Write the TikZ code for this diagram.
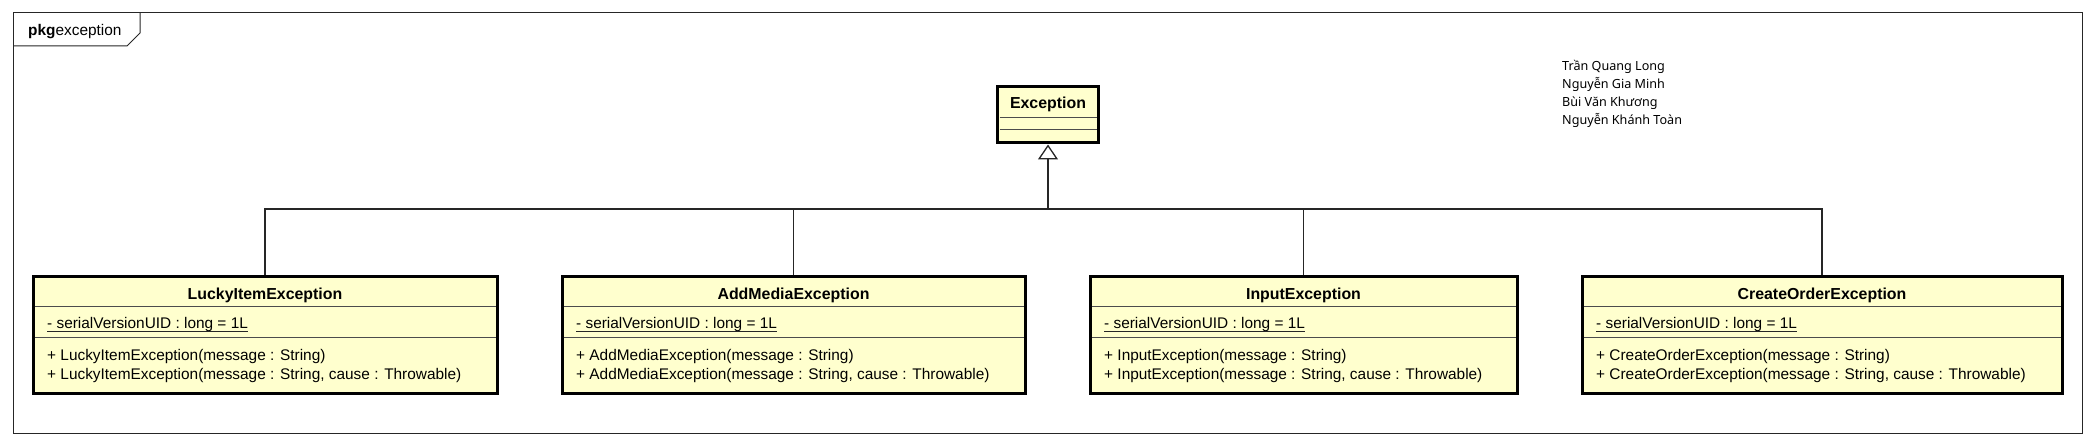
\documentclass[tikz,border=0pt]{standalone}
\usepackage{fontspec}
\setmainfont{Liberation Sans}
\newfontfamily\namefont{Noto Sans}
\usetikzlibrary{arrows.meta,positioning}
\definecolor{classfill}{RGB}{255,255,206}
\tikzset{
  classbox/.style={draw=black, line width=3pt, fill=classfill, rectangle, inner sep=0pt},
  compline/.style={draw=black!70, line width=1pt},
  txt/.style={inner sep=0pt, font=\fontsize{15.4}{18}\selectfont},
  classname/.style={inner sep=0pt, font=\fontsize{15.9}{18}\selectfont\bfseries},
  staticline/.style={draw=black!85, line width=0.9pt},
  conn/.style={draw=black!85, line width=1.3pt},
  inherit/.style={conn, -{Triangle[open, length=15pt, width=20pt, line width=1.3pt]}},
  author/.style={inner sep=0pt, anchor=base west, font=\namefont\fontsize{12.6}{18}\selectfont},
}

\begin{document}
\begin{tikzpicture}[x=1pt, y=-1pt]
\useasboundingbox (0,0) rectangle (2096,446);

% package frame
\draw[line width=1pt, black!85] (13,13) rectangle (2082,433);
\draw[line width=1pt, black!85] (13,46) -- (127,46) -- (140,33) -- (140,13);
\node[txt, anchor=base west] (pkg) at (28,36) {\textbf{pkg}exception};

% authors
\node[author] (name1) at (1562,70.5) {Trần Quang Long};
\node[author] (name2) at (1562,88.5) {Nguyễn Gia Minh};
\node[author] (name3) at (1562,106.5) {Bùi Văn Khương};
\node[author] (name4) at (1562,124.5) {Nguyễn Khánh Toàn};

% Exception
\node[classbox, minimum width=101pt, minimum height=56pt] (exc) at (1048,115) {};
\draw[compline] (999.5,118) -- (1096.5,118);
\draw[compline] (999.5,130) -- (1096.5,130);
\node[classname, anchor=base] (excname) at (1048,109) {Exception};

% LuckyItemException
\node[classbox, minimum width=464pt, minimum height=116pt] (lucky) at (265,335) {};
\draw[compline] (34.5,307) -- (495.5,307);
\draw[compline] (34.5,337) -- (495.5,337);
\node[classname, anchor=base] (luckyname) at (265,299.5) {LuckyItemException};
\node[txt, anchor=base west] (luckyattr) at (47,328.5) {- serialVersionUID : long = 1L};
\draw[staticline] ([yshift=-2.5pt]luckyattr.base west) -- ([yshift=-2.5pt]luckyattr.base east);
\node[txt, anchor=base west] (luckyop1) at (47,360.5) {+ LuckyItemException(message : String)};
\node[txt, anchor=base west] (luckyop2) at (47,379) {+ LuckyItemException(message : String, cause : Throwable)};

% AddMediaException
\node[classbox, minimum width=463pt, minimum height=116pt] (addmedia) at (793.5,335) {};
\draw[compline] (563.5,307) -- (1023.5,307);
\draw[compline] (563.5,337) -- (1023.5,337);
\node[classname, anchor=base] (addmedianame) at (793.5,299.5) {AddMediaException};
\node[txt, anchor=base west] (addmediaattr) at (576,328.5) {- serialVersionUID : long = 1L};
\draw[staticline] ([yshift=-2.5pt]addmediaattr.base west) -- ([yshift=-2.5pt]addmediaattr.base east);
\node[txt, anchor=base west] (addmediaop1) at (576,360.5) {+ AddMediaException(message : String)};
\node[txt, anchor=base west] (addmediaop2) at (576,379) {+ AddMediaException(message : String, cause : Throwable)};

% InputException
\node[classbox, minimum width=427pt, minimum height=116pt] (input) at (1303.5,335) {};
\draw[compline] (1091.5,307) -- (1515.5,307);
\draw[compline] (1091.5,337) -- (1515.5,337);
\node[classname, anchor=base] (inputname) at (1303.5,299.5) {InputException};
\node[txt, anchor=base west] (inputattr) at (1104,328.5) {- serialVersionUID : long = 1L};
\draw[staticline] ([yshift=-2.5pt]inputattr.base west) -- ([yshift=-2.5pt]inputattr.base east);
\node[txt, anchor=base west] (inputop1) at (1104,360.5) {+ InputException(message : String)};
\node[txt, anchor=base west] (inputop2) at (1104,379) {+ InputException(message : String, cause : Throwable)};

% CreateOrderException
\node[classbox, minimum width=480pt, minimum height=116pt] (createorder) at (1822,335) {};
\draw[compline] (1583.5,307) -- (2060.5,307);
\draw[compline] (1583.5,337) -- (2060.5,337);
\node[classname, anchor=base] (createordername) at (1822,299.5) {CreateOrderException};
\node[txt, anchor=base west] (createorderattr) at (1596,328.5) {- serialVersionUID : long = 1L};
\draw[staticline] ([yshift=-2.5pt]createorderattr.base west) -- ([yshift=-2.5pt]createorderattr.base east);
\node[txt, anchor=base west] (createorderop1) at (1596,360.5) {+ CreateOrderException(message : String)};
\node[txt, anchor=base west] (createorderop2) at (1596,379) {+ CreateOrderException(message : String, cause : Throwable)};

% generalization
\coordinate (join) at (exc.south |- 0,209);
\draw[conn] (lucky.north) |- (join);
\draw[conn] (addmedia.north) |- (join);
\draw[conn] (input.north) |- (join);
\draw[conn] (createorder.north) |- (join);
\draw[inherit] (join) -- (exc.south);

\end{tikzpicture}
\end{document}
